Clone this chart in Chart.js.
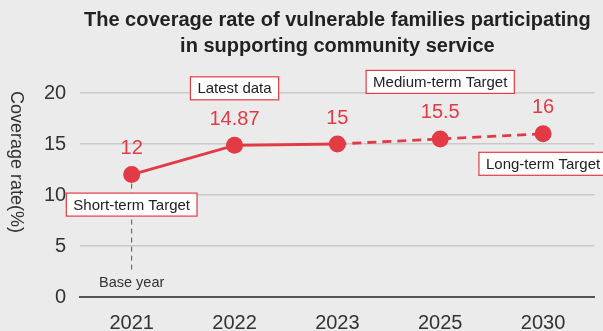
<!DOCTYPE html>
<html>
<head>
<meta charset="utf-8">
<script src="https://cdn.jsdelivr.net/npm/chart.js@4"></script>
<style>
  body { margin: 0; background: #ebebeb; }
  #wrap { width: 603px; height: 331px; }
</style>
</head>
<body>
<div id="wrap"><canvas id="canvas" width="603" height="331"></canvas></div>
<script>
const years = ['2021', '2022', '2023', '2025', '2030']
const coverage = [12, 14.87, 15, 15.5, 16]
const valueLabels = ['12', '14.87', '15', '15.5', '16']
const notes = ['Short-term Target', 'Latest data', '', 'Medium-term Target', 'Long-term Target']
const notesBelow = [true, false, false, false, true]
const yTicks = [0, 5, 10, 15, 20]
const red = '#e23b45'
const FONT = "'Liberation Sans', Arial, sans-serif"

// labels, note boxes, base year marker, rotated y title
const extras = {
  id: 'extras',
  afterDatasetsDraw(chart) {
    const ctx = chart.ctx
    const pts = chart.getDatasetMeta(0).data
    const area = chart.chartArea
    ctx.save()

    // base year dashed marker
    const p0 = pts[0]
    ctx.strokeStyle = '#555'
    ctx.lineWidth = 1
    ctx.setLineDash([5, 4])
    ctx.beginPath()
    ctx.moveTo(p0.x, p0.y + 9)
    ctx.lineTo(p0.x, area.bottom - 26)
    ctx.stroke()
    ctx.setLineDash([])
    ctx.fillStyle = '#333'
    ctx.font = '14.5px ' + FONT
    ctx.textAlign = 'center'
    ctx.textBaseline = 'middle'
    ctx.fillText('Base year', p0.x, area.bottom - 14)

    pts.forEach((p, i) => {
      // value label
      ctx.fillStyle = red
      ctx.font = '20px ' + FONT
      ctx.textAlign = 'center'
      ctx.textBaseline = 'middle'
      ctx.fillText(valueLabels[i], p.x, p.y - 26)

      if (!notes[i]) return
      ctx.font = '15px ' + FONT
      const w = ctx.measureText(notes[i]).width + 14
      const h = 23
      const cy = notesBelow[i] ? p.y + 30 : p.y - 57
      const x = p.x - w / 2
      const y = cy - h / 2
      ctx.fillStyle = '#fff'
      ctx.fillRect(x, y, w, h)
      ctx.strokeStyle = red
      ctx.lineWidth = 1.2
      ctx.strokeRect(x, y, w, h)
      ctx.fillStyle = '#222'
      ctx.fillText(notes[i], p.x, cy + 1)
    })

    // y axis title, reads top to bottom
    ctx.translate(16, 162)
    ctx.rotate(Math.PI / 2)
    ctx.fillStyle = '#333'
    ctx.font = '18px ' + FONT
    ctx.textAlign = 'center'
    ctx.textBaseline = 'middle'
    ctx.fillText('Coverage rate(%)', 0, 0)
    ctx.restore()
  }
}

const ctx = document.getElementById('canvas')
new Chart(ctx, {
  type: 'line',
  data: {
    labels: years,
    datasets: [{
      data: coverage,
      borderColor: red,
      backgroundColor: red,
      borderWidth: 2.8,
      pointRadius: 8.5,
      pointHoverRadius: 8.5,
      pointBackgroundColor: red,
      pointBorderWidth: 0,
      segment: {
        borderDash: (c) => c.p0DataIndex >= 2 ? [9, 6] : undefined
      }
    }]
  },
  options: {
    responsive: false,
    animation: false,
    devicePixelRatio: 1,
    layout: { padding: { left: 30, right: 5, top: 0, bottom: 0 } },
    plugins: {
      legend: { display: false },
      tooltip: { enabled: false },
      title: {
        display: true,
        fullSize: false,
        text: ['The coverage rate of vulnerable families participating', 'in supporting community service'],
        color: '#222',
        font: { family: FONT, size: 20, weight: 'bold', lineHeight: 1.3 },
        padding: { top: 7, bottom: 34 }
      }
    },
    scales: {
      x: {
        offset: true,
        afterFit: (axis) => { axis.height = 34 },
        grid: { display: false, drawTicks: false },
        border: { display: true, color: '#555', width: 2 },
        ticks: { color: '#333', font: { family: FONT, size: 20 }, padding: 14 }
      },
      y: {
        min: 0,
        max: 20,
        afterBuildTicks: (axis) => { axis.ticks = yTicks.map(v => ({ value: v })) },
        grid: { color: '#c9c9c9', lineWidth: 1.5, drawTicks: false },
        border: { display: false },
        ticks: { color: '#333', font: { family: FONT, size: 20 }, padding: 14 }
      }
    }
  },
  plugins: [extras]
})
</script>
</body>
</html>
